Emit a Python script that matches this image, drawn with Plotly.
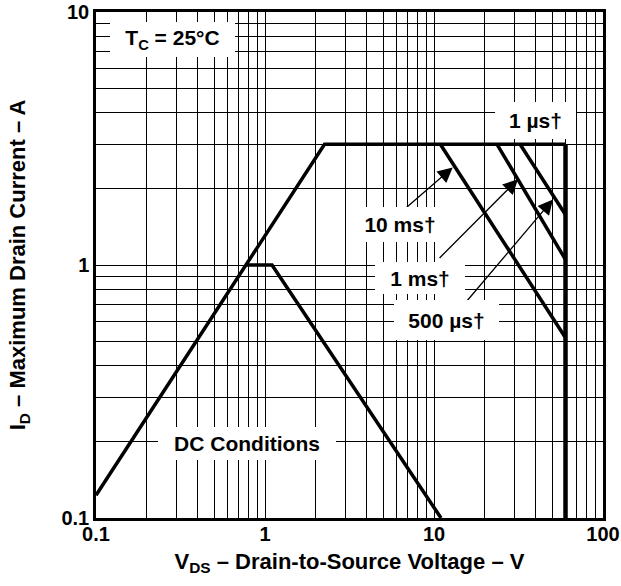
import math
import plotly.graph_objects as go

# ---------------- data ----------------
# safe-operating-area envelope (R_DS(on) limit + 3 A current limit)
env_v = [0.1, 2.25, 60]
env_i = [0.123, 3.0, 3.0]
# 1 us limit: vertical at V_DS max
vmax_v = [60, 60]
vmax_i = [3.0, 0.1]
# pulse limits
p10ms_v = [10.9, 60]
p10ms_i = [3.0, 0.516]
p1ms_v = [23.6, 60]
p1ms_i = [3.0, 1.05]
p500us_v = [32.3, 60]
p500us_i = [3.0, 1.58]
# DC conditions
dc_v = [0.775, 1.1, 11.0]
dc_i = [1.0, 1.0, 0.1]

x_ticks = [0.1, 1, 10, 100]
y_ticks = [0.1, 1, 10]
x_grid = [m * 10 ** e for e in (-1, 0, 1) for m in range(1, 10)] + [100]
y_grid = [m * 10 ** e for e in (-1, 0) for m in range(1, 10)] + [10]

FONT = "Liberation Sans, Arial, Helvetica, sans-serif"

fig = go.Figure()
line = dict(color="black", width=3.5)
for xs, ys in [(env_v, env_i), (p10ms_v, p10ms_i), (p1ms_v, p1ms_i),
               (p500us_v, p500us_i), (dc_v, dc_i)]:
    fig.add_trace(go.Scatter(x=xs, y=ys, mode="lines", line=line,
                             showlegend=False, hoverinfo="skip"))
fig.add_trace(go.Scatter(x=vmax_v, y=vmax_i, mode="lines",
                         line=dict(color="black", width=4.5),
                         showlegend=False, hoverinfo="skip"))

L = math.log10

# arrows (tip <- tail), drawn first so label boxes cover their tails
arrows = [
    ((12.9, 2.43), (10 ** 0.811, 10 ** 0.212)),
    ((10 ** 1.497, 10 ** 0.339), (10 ** 1.024, 10 ** 0.0218)),
    ((10 ** 1.704, 10 ** 0.259), (10 ** 1.172, 10 ** -0.160)),
]
annotations = []
for (tx, ty), (sx, sy) in arrows:
    annotations.append(dict(
        x=L(tx), y=L(ty), ax=L(sx), ay=L(sy), xref="x", yref="y",
        axref="x", ayref="y", text="", showarrow=True,
        arrowhead=2, arrowsize=2.3, arrowwidth=1.3, arrowcolor="black",
        standoff=0, startstandoff=0))

# text labels with white boxes that interrupt the grid
labels = [
    ("T<sub>C</sub> = 25°C", 0.282, 7.8, 125, 35),
    ("1 µs†", 39.6, 3.73, 81, 37),
    ("10 ms†", 6.3, 1.45, 86, 35),
    ("1 ms†", 8.26, 0.892, 90, 32),
    ("500 µs†", 11.9, 0.608, 105, 40),
    ("DC Conditions", 0.78, 0.197, 178, 33),
]
for txt, x, y, w, h in labels:
    annotations.append(dict(
        x=L(x), y=L(y), xref="x", yref="y", text=txt, showarrow=False,
        xanchor="center", yanchor="middle", width=w, height=h,
        bgcolor="white", borderpad=0, borderwidth=0,
        font=dict(family=FONT, size=21, color="black", weight="bold")))

axis_common = dict(
    type="log", showgrid=True, gridcolor="black", gridwidth=1,
    showline=True, linecolor="black", linewidth=2.5, mirror=True,
    ticks="", zeroline=False, automargin=False,
    tickfont=dict(family=FONT, size=20, color="black", weight="bold"),
)

fig.update_layout(
    width=621, height=586,
    margin=dict(l=96, r=18, t=12, b=68),
    paper_bgcolor="white", plot_bgcolor="white",
    font=dict(family=FONT, size=20, color="black", weight="bold"),
    annotations=annotations,
    xaxis=dict(
        range=[-1, 2], tickvals=x_grid,
        ticktext=[("%g" % v) if v in x_ticks else "" for v in x_grid],
        ticklabelstandoff=-4,
        title=dict(text="V<sub>DS</sub> – Drain-to-Source Voltage – V",
                   font=dict(family=FONT, size=22, color="black", weight="bold"),
                   standoff=10),
        **axis_common),
    yaxis=dict(
        range=[-1, 1], tickvals=y_grid,
        ticktext=[("%g" % v) if v in y_ticks else "" for v in y_grid],
        title=dict(text="I<sub>D</sub> – Maximum Drain Current – A",
                   font=dict(family=FONT, size=22, color="black", weight="bold"),
                   standoff=30),
        **axis_common),
)

fig.write_html("out.html")
